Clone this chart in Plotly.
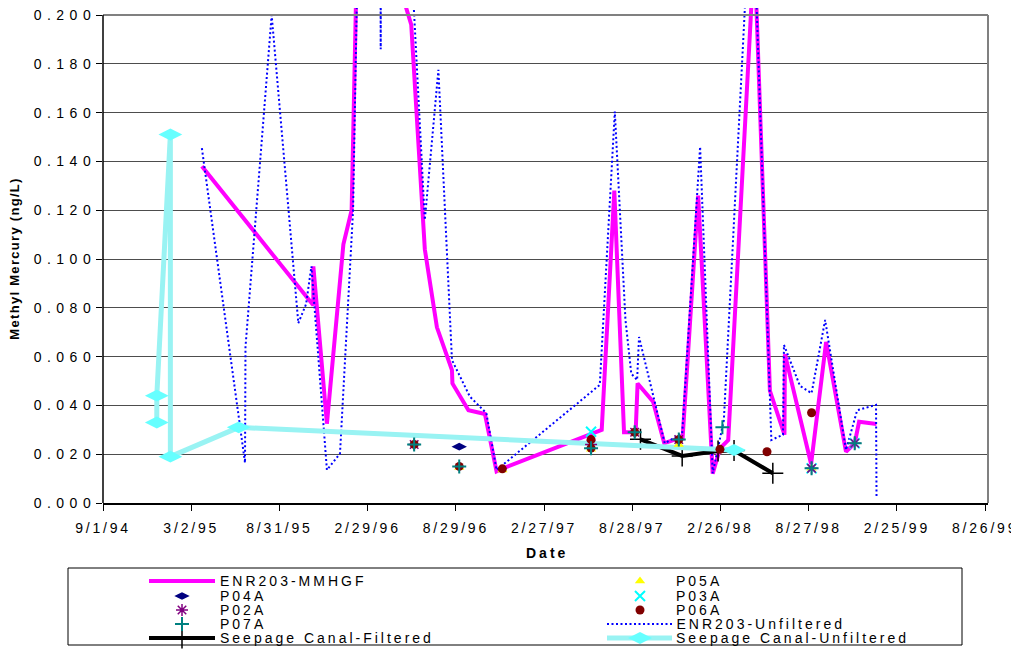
import json
import plotly.graph_objects as go

# The page body has an 8px margin, so the figure is sized to fill the 1019x649 window exactly
OFF = 8
W, H = 1019 - OFF, 649 - OFF

# ---------------- data ----------------
tick_dates = ["1994-09-01", "1995-03-02", "1995-08-31", "1996-02-29", "1996-08-29", "1997-02-27",
              "1997-08-28", "1998-02-26", "1998-08-27", "1999-02-25", "1999-08-26"]
tick_labels = ["9/1/94", "3/2/95", "8/31/95", "2/29/96", "8/29/96", "2/27/97",
               "8/28/97", "2/26/98", "8/27/98", "2/25/99", "8/26/99"]
y_ticks = [0.0, 0.02, 0.04, 0.06, 0.08, 0.10, 0.12, 0.14, 0.16, 0.18, 0.20]

mmhgf_dates = ["1995-03-24", "1995-11-09", "1995-11-09", "1995-12-07", "1996-01-10", "1996-01-27",
               "1996-02-17", "1996-04-15", "1996-05-29", "1996-06-26", "1996-07-21", "1996-08-21", "1996-08-22",
               "1996-09-24", "1996-10-28", "1996-11-21", "1996-12-02", "1997-06-26", "1997-07-22", "1997-08-11",
               "1997-09-04", "1997-09-08", "1997-10-10", "1997-11-02", "1997-12-10", "1998-01-11", "1998-02-10",
               "1998-02-25", "1998-03-14", "1998-05-07", "1998-06-08", "1998-07-08", "1998-07-09", "1998-09-01",
               "1998-10-02", "1998-11-12", "1998-11-30", "1998-12-09", "1999-01-14"]
mmhgf_vals = [0.138, 0.081, 0.097, 0.0325, 0.106, 0.120,
              0.32, 0.225, 0.196, 0.104, 0.072, 0.0545, 0.049,
              0.038, 0.0365, 0.013, 0.014, 0.030, 0.128, 0.029,
              0.029, 0.049, 0.0415, 0.0245, 0.027, 0.126, 0.012,
              0.0224, 0.0258, 0.227, 0.046, 0.028, 0.061, 0.016,
              0.066, 0.021, 0.0245, 0.0333, 0.0324]

unf_dates = ["1995-03-24", "1995-06-21", "1995-06-22", "1995-08-15", "1995-10-09", "1995-10-25", "1995-11-05",
             "1995-12-07", "1996-01-03", "1996-01-30", "1996-02-17", "1996-03-25", "1996-03-27", "1996-03-28",
             "1996-05-22", "1996-06-26", "1996-07-24", "1996-08-21", "1996-09-27", "1996-10-31", "1996-11-21",
             "1997-06-22", "1997-07-23", "1997-08-14", "1997-08-26", "1997-09-07", "1997-09-11", "1997-11-03",
             "1997-12-09", "1998-01-15", "1998-02-10", "1998-03-05", "1998-05-02", "1998-06-11", "1998-07-05",
             "1998-07-07", "1998-08-09", "1998-09-02", "1998-09-30", "1998-11-12", "1998-12-05", "1999-01-13",
             "1999-01-14"]
unf_vals = [0.1454, 0.0165, 0.064, 0.200, 0.0737, 0.0815, 0.097,
            0.0135, 0.0203, 0.120, 0.32, 0.40, 0.186, 0.40,
            0.25, 0.116, 0.1775, 0.0586, 0.0436, 0.0368, 0.0135,
            0.0484, 0.1604, 0.075, 0.053, 0.0504, 0.068, 0.0245,
            0.0285, 0.146, 0.0122, 0.034, 0.26, 0.0258, 0.028,
            0.0648, 0.048, 0.045, 0.075, 0.0217, 0.038, 0.0402,
            0.002]

sf_dates = ["1997-09-14", "1997-12-09", "1998-02-21", "1998-03-26", "1998-06-14"]
sf_vals = [0.0261, 0.0193, 0.0213, 0.0215, 0.0122]

su_dates = ["1994-12-21", "1994-12-21", "1995-01-18", "1995-01-18", "1995-06-08", "1998-03-26"]
su_vals = [0.033, 0.044, 0.151, 0.019, 0.031, 0.0217]

p05a_dates = ["1996-09-05", "1996-12-03", "1997-06-04", "1997-12-02", "1998-09-02"]
p05a_vals = [0.0145, 0.0135, 0.022, 0.024, 0.0142]

p04a_dates = ["1996-09-05"]
p04a_vals = [0.0231]

p03a_dates = ["1997-06-04", "1998-09-02", "1998-11-30"]
p03a_vals = [0.0292, 0.0142, 0.0245]

p02a_dates = ["1996-06-04", "1997-06-04", "1997-09-02", "1997-12-02", "1998-09-02", "1998-11-30"]
p02a_vals = [0.024, 0.024, 0.029, 0.026, 0.0142, 0.0245]

p06a_dates = ["1996-06-04", "1996-09-05", "1996-12-03", "1997-06-04", "1997-06-04", "1997-09-02",
              "1997-12-02", "1998-02-25", "1998-06-02", "1998-09-02"]
p06a_vals = [0.024, 0.015, 0.014, 0.026, 0.0225, 0.029, 0.026, 0.022, 0.021, 0.037]

p07a_dates = ["1996-06-04", "1996-09-05", "1997-06-04", "1997-09-02", "1997-12-02", "1998-03-02",
              "1998-09-02", "1998-11-30"]
p07a_vals = [0.024, 0.015, 0.0224, 0.029, 0.026, 0.031, 0.0142, 0.0245]

# ---------------- styles ----------------
FONT = "Liberation Sans, Arial, sans-serif"
MAGENTA = "#FF00FF"
BLUE = "#0000FF"
CYAN_LINE = "#99F3F3"
CYAN_MK = "#66FFFF"
LS_LEGEND = 3.0  # letter spacing of legend texts (px)

series = [
    # name, dates, vals, mode, line, marker, legend(col,row)
    ("ENR203-MMHGF", mmhgf_dates, mmhgf_vals, "lines",
     dict(color=MAGENTA, width=4), None, (0, 0)),
    ("ENR203-Unfiltered", unf_dates, unf_vals, "lines",
     dict(color=BLUE, width=2, dash="2px,2.5px"), None, (1, 3)),
    ("Seepage Canal-Filtered", sf_dates, sf_vals, "lines+markers",
     dict(color="black", width=4),
     dict(symbol="cross-thin-open", size=15, color="black", line=dict(color="black", width=1.5)), (0, 4)),
    ("Seepage Canal-Unfiltered", su_dates, su_vals, "lines+markers",
     dict(color=CYAN_LINE, width=5),
     dict(symbol="diamond-wide", size=17, color=CYAN_MK, line=dict(width=0)), (1, 4)),
    ("P05A", p05a_dates, p05a_vals, "markers", None,
     dict(symbol="triangle-up", size=9, color="#FFFF00", line=dict(width=0)), (1, 0)),
    ("P04A", p04a_dates, p04a_vals, "markers", None,
     dict(symbol="diamond-wide", size=11, color="#000080", line=dict(width=0)), (0, 1)),
    ("P03A", p03a_dates, p03a_vals, "markers", None,
     dict(symbol="x-thin-open", size=10, color="#00FFFF", line=dict(color="#00FFFF", width=2)), (1, 1)),
    ("P02A", p02a_dates, p02a_vals, "markers", None,
     dict(symbol="asterisk-open", size=10, color="#800080", line=dict(color="#800080", width=1.5)), (0, 2)),
    ("P06A", p06a_dates, p06a_vals, "markers", None,
     dict(symbol="circle", size=9, color="#800000", line=dict(width=0)), (1, 2)),
    ("P07A", p07a_dates, p07a_vals, "markers", None,
     dict(symbol="cross-thin-open", size=10, color="#008080", line=dict(color="#008080", width=2)), (0, 3)),
]

# legend / frame geometry, in window pixels
LEG_BOX = (68, 568, 962, 645)
LEG_ROWS = [581, 596, 610, 624, 638]
LEG_COLS = [dict(l0=149, l1=215, mk=182, tx=218), dict(l0=607, l1=672, mk=640, tx=674)]
PLOT_L, PLOT_R, PLOT_T, PLOT_B = 103, 988, 15, 503


def px_x(p):
    return (p - OFF) / W


def px_y(p):
    return 1 - (p - OFF) / H


fig = go.Figure()
annotations = []

# axis titles as annotations (index 0 and 1)
annotations.append(dict(text="<b>Date</b>", xref="paper", yref="paper", x=px_x(547), y=px_y(553),
                        xanchor="center", yanchor="middle", showarrow=False,
                        font=dict(family=FONT, size=14, color="black")))
annotations.append(dict(text="<b>Methyl Mercury (ng/L)</b>", xref="paper", yref="paper", x=px_x(15),
                        y=px_y(259), xanchor="center", yanchor="middle", textangle=-90, showarrow=False,
                        font=dict(family=FONT, size=13, color="black")))

for name, xs, ys, mode, line, marker, (col, row) in series:
    kw = dict(x=xs, y=ys, name=name, mode=mode, showlegend=False, hoverinfo="x+y+name")
    if line:
        kw["line"] = line
    if marker:
        kw["marker"] = marker
    fig.add_trace(go.Scatter(**kw))

    c = LEG_COLS[col]
    ry = LEG_ROWS[row]
    if line:
        fig.add_trace(go.Scatter(x=[c["l0"], c["l1"]], y=[ry, ry], mode="lines", line=line,
                                 xaxis="x2", yaxis="y2", showlegend=False, hoverinfo="skip"))
    if marker:
        fig.add_trace(go.Scatter(x=[c["mk"]], y=[ry], mode="markers", marker=marker,
                                 xaxis="x2", yaxis="y2", showlegend=False, hoverinfo="skip"))
    # annotation text is centred in its box, so the added letter spacing grows to both sides
    annotations.append(dict(text=name, xref="x2", yref="y2", x=c["tx"] + len(name) * LS_LEGEND / 2, y=ry,
                            xanchor="left", yanchor="middle", showarrow=False,
                            font=dict(family=FONT, size=14, color="black")))

shapes = [
    dict(type="line", xref="x2", yref="y2", x0=PLOT_L, x1=PLOT_R, y0=PLOT_T, y1=PLOT_T,
         line=dict(color="#808080", width=2), layer="above"),
    dict(type="line", xref="x2", yref="y2", x0=PLOT_R, x1=PLOT_R, y0=PLOT_T, y1=PLOT_B,
         line=dict(color="#808080", width=2), layer="above"),
    dict(type="line", xref="x2", yref="y2", x0=PLOT_L, x1=PLOT_L, y0=PLOT_T, y1=PLOT_B,
         line=dict(color="black", width=1.5), layer="above"),
    dict(type="rect", xref="x2", yref="y2", x0=LEG_BOX[0], x1=LEG_BOX[2], y0=LEG_BOX[1], y1=LEG_BOX[3],
         line=dict(color="black", width=1), layer="above"),
]

Y_TOP = (PLOT_B - OFF) / 2440.0  # value at the top of the drawing area (window y = 8)

fig.update_layout(
    template="none",
    width=W, height=H,
    margin=dict(l=0, r=0, t=0, b=0, pad=0),
    paper_bgcolor="white", plot_bgcolor="rgba(0,0,0,0)",
    font=dict(family=FONT, size=14, color="black"),
    showlegend=False,
    xaxis=dict(domain=[px_x(PLOT_L), px_x(PLOT_R)], type="date", range=["1994-09-01", "1999-09-01"],
               tickvals=tick_dates, ticktext=tick_labels, ticks="outside", ticklen=6, tickwidth=1,
               tickcolor="black", showgrid=False, zeroline=False, showline=True, linecolor="black",
               linewidth=1.5, tickfont=dict(family=FONT, size=14, color="black"), anchor="y",
               ticklabelstandoff=5, ticklabeloverflow="allow"),
    yaxis=dict(domain=[px_y(PLOT_B), 1], range=[0, Y_TOP], tickvals=y_ticks, tickformat=".3f",
               ticks="outside", ticklen=6, tickwidth=1, tickcolor="black", showgrid=True,
               gridcolor="#4d4d4d", gridwidth=1, zeroline=False, showline=False,
               tickfont=dict(family=FONT, size=14, color="black"), anchor="x",
               ticklabeloverflow="allow", ticklabelstandoff=-3),
    xaxis2=dict(domain=[0, 1], range=[OFF, OFF + W], visible=False, anchor="y2", fixedrange=True),
    yaxis2=dict(domain=[0, 1], range=[OFF + H, OFF], visible=False, anchor="x2", fixedrange=True),
    shapes=shapes,
    annotations=annotations,
)

css = (".xtick text{letter-spacing:2.8px}"
       ".ytick text{letter-spacing:5.5px}"
       "g.annotation text{letter-spacing:3px}"
       "g.annotation[data-index='1'] text{letter-spacing:1.3px}")
post = "var s=document.createElement('style');s.textContent=" + json.dumps(css) + ";document.head.appendChild(s);"

fig.write_html("out.html", post_script=post)
